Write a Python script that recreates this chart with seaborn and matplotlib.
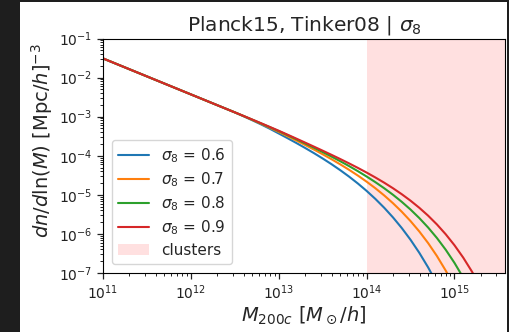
import numpy as np
import pandas as pd
import matplotlib
matplotlib.use("Agg")
import matplotlib.pyplot as plt
from matplotlib.patches import Rectangle
from matplotlib.ticker import LogLocator, NullFormatter
import seaborn as sns

# log10 of halo mass M200c [Msun/h]
log_mass = [11.0, 11.5, 12.0, 12.5, 12.6, 12.7, 12.8, 12.9, 13.0, 13.1,
            13.2, 13.3, 13.4, 13.5, 13.6, 13.7, 13.8, 13.9, 14.0, 14.1,
            14.2, 14.3, 14.4, 14.5, 14.6, 14.7, 14.8, 14.9, 15.0, 15.1,
            15.2, 15.3]

# log10 of dn/dln(M), one list per sigma_8
logn_s06 = [-1.51, -1.97, -2.43, -2.89, -2.990, -3.093, -3.199, -3.311, -3.430, -3.550,
            -3.673, -3.800, -3.932, -4.070, -4.215, -4.369, -4.533, -4.709, -4.899, -5.105,
            -5.330, -5.577, -5.849, -6.150, -6.484, -6.856, -7.270, -7.740, -8.260, -8.840,
            -9.480, -10.20]
logn_s07 = [-1.51, -1.97, -2.43, -2.89, -2.985, -3.083, -3.183, -3.286, -3.390, -3.499,
            -3.610, -3.724, -3.841, -3.962, -4.088, -4.220, -4.359, -4.506, -4.663, -4.832,
            -5.015, -5.214, -5.432, -5.672, -5.938, -6.234, -6.565, -6.937, -7.357, -7.830,
            -8.370, -8.980]
logn_s08 = [-1.51, -1.97, -2.43, -2.89, -2.983, -3.078, -3.174, -3.271, -3.370, -3.473,
            -3.578, -3.685, -3.794, -3.906, -4.021, -4.140, -4.264, -4.394, -4.531, -4.676,
            -4.831, -4.998, -5.179, -5.377, -5.595, -5.836, -6.104, -6.404, -6.741, -7.121,
            -7.550, -8.030]
logn_s09 = [-1.51, -1.97, -2.43, -2.89, -2.982, -3.075, -3.169, -3.264, -3.360, -3.460,
            -3.561, -3.663, -3.766, -3.870, -3.976, -4.084, -4.195, -4.310, -4.430, -4.556,
            -4.689, -4.831, -4.984, -5.150, -5.332, -5.533, -5.757, -6.008, -6.290, -6.608,
            -6.968, -7.378]

sigma8_values = [0.6, 0.7, 0.8, 0.9]
series = [logn_s06, logn_s07, logn_s08, logn_s09]
colors = ["tab:blue", "tab:orange", "tab:green", "tab:red"]

cluster_min = 1e14
x_max = 10 ** 15.575

sns.set_style("ticks")

fig = plt.figure(figsize=(5.1, 3.32), dpi=100, facecolor="#1e1e1e")
# white page inside the dark screenshot border
fig.patches.append(Rectangle((20 / 510, 0), 487 / 510, 330 / 332,
                             transform=fig.transFigure, facecolor="white",
                             edgecolor="none", zorder=-10))
ax = fig.add_axes([103 / 510, 59 / 332, 402 / 510, 234.5 / 332])

span = ax.axvspan(cluster_min, x_max, color="red", alpha=0.12, lw=0, zorder=0)

handles = []
for s8, logn, c in zip(sigma8_values, series, colors):
    df = pd.DataFrame({"M": 10 ** np.array(log_mass), "n": 10 ** np.array(logn)})
    sns.lineplot(data=df, x="M", y="n", color=c, lw=1.5, ax=ax, legend=False)
    handles.append(ax.lines[-1])
    handles[-1].set_label(rf"$\sigma_8$ = {s8}")
span.set_label("clusters")

ax.set_xscale("log")
ax.set_yscale("log")
ax.set_xlim(1e11, x_max)
ax.set_ylim(1e-7, 1e-1)
for axis in (ax.xaxis, ax.yaxis):
    axis.set_minor_locator(LogLocator(base=10, subs=np.arange(2, 10), numticks=100))
    axis.set_minor_formatter(NullFormatter())
for sp in ax.spines.values():
    sp.set_color("black")
ax.tick_params(which="major", labelsize=10, colors="#222222", length=4, width=0.9)
ax.tick_params(which="minor", length=2, width=0.7, colors="#222222")

ax.set_title(r"Planck15, Tinker08 | $\sigma_8$", fontsize=14.5)
ax.set_xlabel(r"$M_{200c}$ [$M_\odot/h$]", fontsize=14, labelpad=2)
ax.set_ylabel(r"$dn/d\ln(M)$ [Mpc/$h$]$^{-3}$", fontsize=14)
ax.yaxis.set_label_coords(-0.12, 0.565)
ax.legend(handles=handles + [span], loc="lower left", fontsize=11,
          labelspacing=0.35, borderaxespad=0.6)

fig.savefig("out.png", dpi=100, facecolor=fig.get_facecolor())
